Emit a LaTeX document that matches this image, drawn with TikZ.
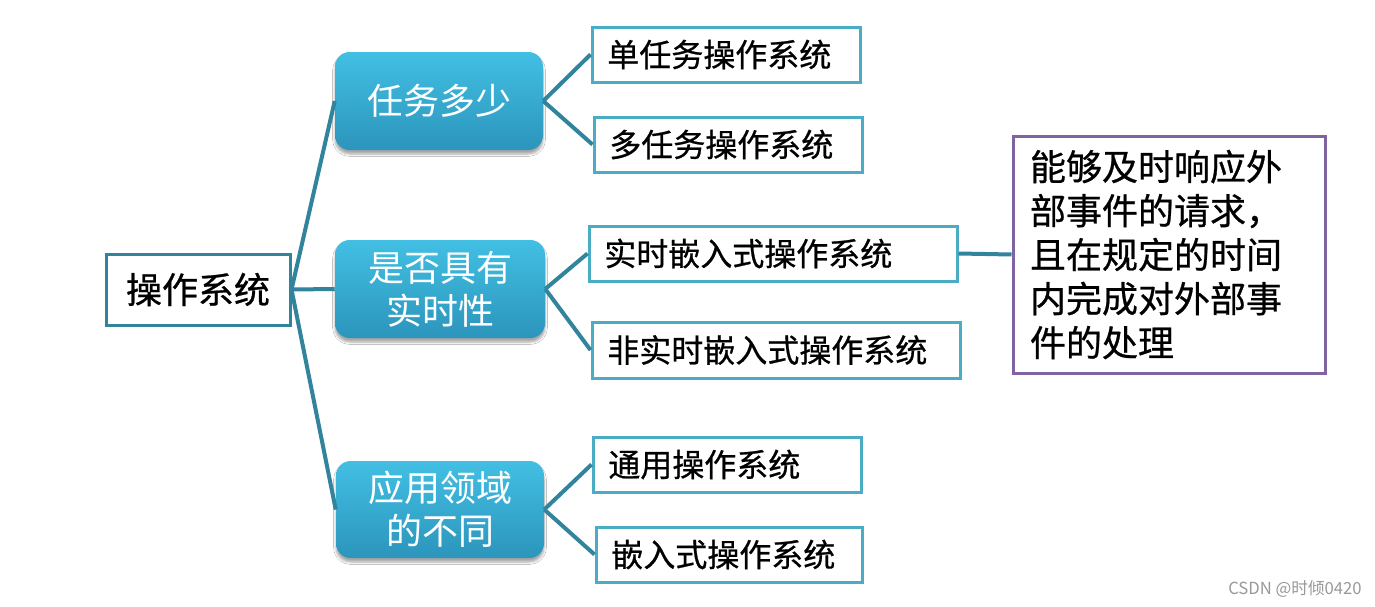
\documentclass[tikz,border=0pt]{standalone}
\usepackage{fontspec}
\newfontfamily\cjk{Noto Sans CJK SC}
\newfontfamily\cjkb[FakeBold=0.7]{Noto Sans CJK SC}
\usetikzlibrary{shadows.blur}
\definecolor{leafc}{HTML}{4BACC6}
\definecolor{rootc}{HTML}{31849B}
\definecolor{linkc}{HTML}{31849B}
\definecolor{midtop}{HTML}{42BFE3}
\definecolor{midbot}{HTML}{2C95BC}
\definecolor{purp}{HTML}{8064A2}
\tikzset{
  rootbox/.style={draw=rootc, line width=2.25pt, fill=white, minimum width=138pt, minimum height=53.25pt, inner sep=0pt, font=\cjkb\fontsize{27}{32}\selectfont},
  midbox/.style={rounded corners=11pt, top color=midtop, bottom color=midbot, minimum width=156pt, minimum height=73.5pt, inner sep=0pt, align=center, text=white, font=\cjk\fontsize{27}{32}\selectfont, blur shadow={shadow xshift=0pt, shadow yshift=-3pt, shadow blur steps=6, shadow opacity=35}},
  leafbox/.style={draw=leafc, line width=2.25pt, fill=white, inner xsep=11.5pt, inner ysep=0pt, minimum height=41.25pt, align=left, font=\cjkb\fontsize{24}{28}\selectfont},
  notebox/.style={draw=purp, line width=2.25pt, fill=white, inner xsep=12.75pt, inner ysep=0pt, text width=208.5pt, minimum height=177.75pt, align=left, font=\cjkb\fontsize{27}{33}\selectfont},
  link/.style={draw=linkc, line width=3pt},
  wmark/.style={text=black!40, font=\cjk\fontsize{12.5}{14}\selectfont}
}
\begin{document}
\begin{tikzpicture}[x=0.75pt,y=-0.75pt]
\useasboundingbox (0,0) rectangle (1375,607);
\fill[white] (0,0) rectangle (1375,607);
\node[rootbox] (root) at (198,289.5) {操作系统};
\node[midbox] (m1) at (439,101) {任务多少};
\node[midbox, minimum width=157.5pt] (m2) at (440,289) {是否具有\\实时性};
\node[midbox, minimum height=72.75pt] (m3) at (440,509.5) {应用领域\\的不同};
\node[leafbox, text width=178pt] (l1) at (726,54.5) {单任务操作系统};
\node[leafbox, text width=178pt] (l2) at (728,144.5) {多任务操作系统};
\node[leafbox, text width=253pt] (l3) at (773,253.5) {实时嵌入式操作系统};
\node[leafbox, text width=253pt, minimum height=42pt] (l4) at (776,350) {非实时嵌入式操作系统};
\node[leafbox, text width=178pt] (l5) at (727,464.5) {通用操作系统};
\node[leafbox, text width=176.5pt] (l6) at (729,554.5) {嵌入式操作系统};
\node[notebox] (note) at (1169,254.5) {能够及时响应外\\部事件的请求，\\且在规定的时间\\内完成对外部事\\件的处理};
\draw[link] (root.east) -- (m1.west);
\draw[link] (root.east) -- (m2.west);
\draw[link] (root.east) -- (m3.west);
\draw[link] (m1.east) -- (l1.west);
\draw[link] (m1.east) -- (l2.west);
\draw[link] (m2.east) -- (l3.west);
\draw[link] (m2.east) -- (l4.west);
\draw[link] (m3.east) -- (l5.west);
\draw[link] (m3.east) -- (l6.west);
\draw[link] (l3.east) -- (note.west);
\node[wmark] (wm) at (1295,589) {CSDN @时倾0420};
\end{tikzpicture}
\end{document}
